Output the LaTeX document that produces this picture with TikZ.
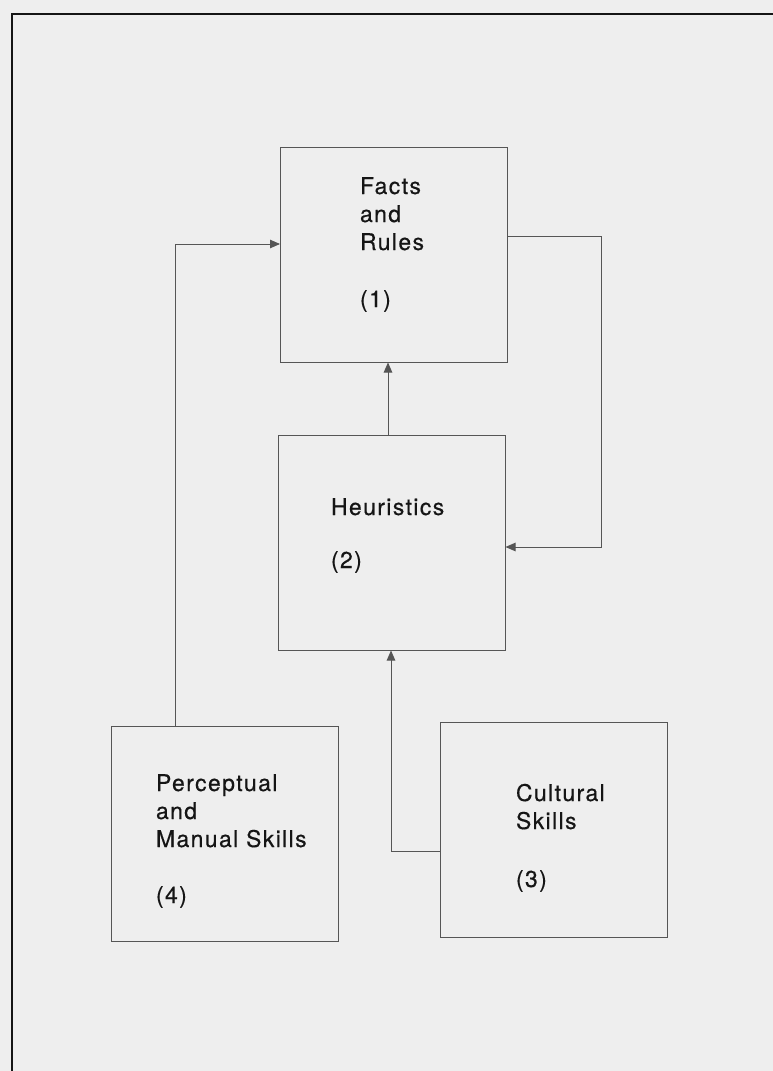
\documentclass[tikz,border=0pt]{standalone}
\usepackage{fontspec}
\setmainfont{TeX Gyre Heros}[LetterSpace=6,FakeBold=0.4]
\usetikzlibrary{arrows.meta}

\definecolor{paper}{HTML}{EEEEEE}
\definecolor{ink}{HTML}{151515}
\definecolor{rule}{HTML}{555555}

\tikzset{
  stage/.style={draw=rule, line width=0.9pt, rectangle, inner sep=0pt, outer sep=0pt,
                minimum width=227pt, minimum height=215pt},
  label/.style={anchor=base west, inner sep=0pt, outer sep=0pt, align=left, text=ink,
                font=\fontsize{23}{28}\selectfont},
  link/.style={draw=rule, line width=0.9pt,
               -{Triangle[length=10pt,width=8.5pt]}},
  frameline/.style={draw=ink, line width=2.4pt}
}

\begin{document}
\begin{tikzpicture}[x=1pt, y=-1pt]
  \fill[paper] (0,0) rectangle (773,1071);
  \useasboundingbox (0,0) rectangle (773,1071);

  % page frame: top and left edges only
  \draw[frameline] (12,1071) -- (12,14) -- (773,14);

  % the four stages
  \node[stage] (facts) at (393.5,255) {};
  \node[stage] (heur)  at (392,543) {};
  \node[stage] (perc)  at (224.5,834) {};
  \node[stage] (cult)  at (554,830) {};

  % their texts (a block's base is the baseline of its last line)
  \node[label] (factsT) at (360,250) {Facts\\and\\Rules};
  \node[label] (factsN) at (360,307) {(1)};
  \node[label] (heurT)  at (331,515) {Heuristics};
  \node[label] (heurN)  at (331,568) {(2)};
  \node[label] (percT)  at (156,847) {Perceptual\\and\\Manual Skills};
  \node[label] (percN)  at (156,903) {(4)};
  \node[label] (cultT)  at (516,829) {Cultural\\Skills};
  \node[label] (cultN)  at (516,887) {(3)};

  % connectors
  \draw[link] ([xshift=64pt]perc.north west) |- ([yshift=11pt]facts.west);
  \draw[link] ([xshift=-4pt]heur.north) -- ([xshift=-4pt]heur.north |- facts.south);
  \draw[link] ([yshift=19pt]facts.east) -- ++(94pt,0) |- ([yshift=-4pt]heur.east);
  \draw[link] ([yshift=-21pt]cult.west) -| ([xshift=-1pt]heur.south);
\end{tikzpicture}
\end{document}
